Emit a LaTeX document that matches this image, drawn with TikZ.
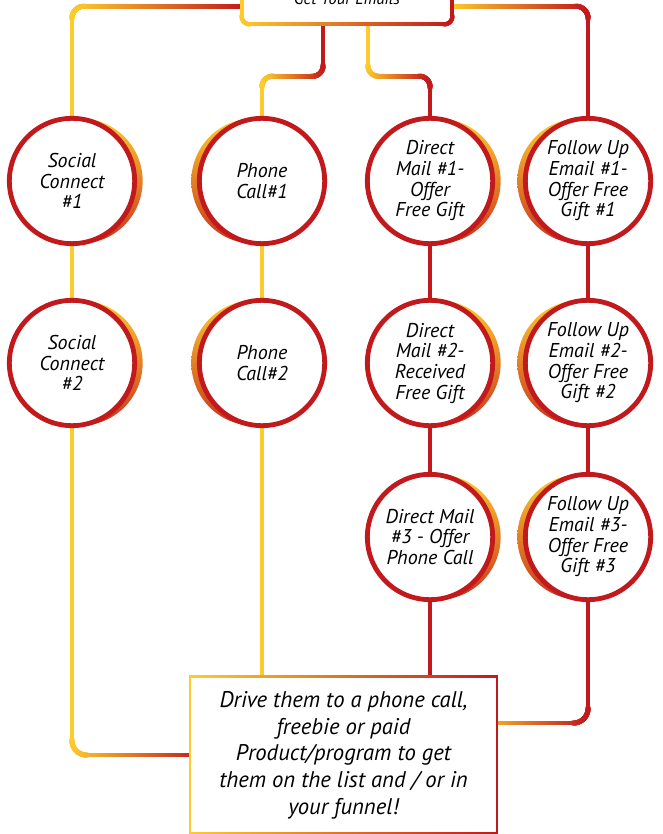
\documentclass[tikz,border=0pt]{standalone}
\usepackage{fontspec}
\setmainfont{PT Sans}
\usepackage{xcolor}
\usetikzlibrary{positioning, backgrounds, decorations.markings}
\definecolor{fyellow}{HTML}{FCCB2C}
\definecolor{fred}{HTML}{C1191C}
\tikzset{
  stage/.style={circle, draw=fred, line width=3.6pt, fill=white,
    minimum size=94pt, inner sep=0pt, align=center,
    font=\fontsize{15}{15.5}\selectfont\itshape,
    preaction={transform canvas={xshift=#1}, top color=fyellow,
      bottom color=fred!85!fyellow}},
  stage/.default=6pt,
  goalbox/.style={rectangle, fill=white, minimum width=230pt,
    minimum height=117pt, align=center,
    font=\fontsize{17}{20}\selectfont\itshape},
  emailbox/.style={rectangle, rounded corners=6pt, fill=white,
    minimum width=157.5pt, minimum height=37.5pt,
    font=\fontsize{12.5}{14}\selectfont\itshape},
  link/.style={line width=3.6pt, draw=#1},
  xfade/.style n args={3}{decoration={markings,
    mark=between positions 0 and 1 step 0.5pt with {%
      \pgfgettransformentries{\fa}{\fb}{\fc}{\fd}{\fx}{\fy}%
      \pgfmathsetmacro\fmix{100*min(1,max(0,(\fx/0.75-#1)/(#2-#1)))}%
      \fill[fred!\fmix!fyellow, sharp corners] (-#3/2,-#3/2) rectangle (#3/2,#3/2);}},
    postaction={decorate}},
}

\begin{document}
\begin{tikzpicture}[x=0.75pt, y=-0.75pt]
\useasboundingbox (0,0) rectangle (662,834);
\clip (0,0) rectangle (662,834);

% ---- Top box ----
\node[emailbox] (emails) at (347,-1) {Get Your Emails};
\path[xfade={242}{452}{3pt}, rounded corners=6pt]
  (emails.north west) rectangle (emails.south east);

% ---- Social ----
\node[stage] (sc1) at (72,181) {Social\\Connect\\\#1};
\node[stage] (sc2) at (72,363) {Social\\Connect\\\#2};

% ---- Phone ----
\node[stage=-6pt] (pc1) at (262,181) {Phone\\Call\#1};
\node[stage=-6pt] (pc2) at (262,363) {Phone\\Call\#2};

% ---- Direct mail ----
\node[stage] (dm1) at (430,181) {Direct\\Mail \#1-\\Offer\\Free Gift};
\node[stage] (dm2) at (430,363) {Direct\\Mail \#2-\\Received\\Free Gift};
\node[stage] (dm3) at (430,537) {Direct Mail\\\#3 - Offer\\Phone Call};

% ---- Follow up ----
\node[stage=-6pt] (fu1) at (588,181) {Follow Up\\Email \#1-\\Offer Free\\Gift \#1};
\node[stage=-6pt] (fu2) at (588,363) {Follow Up\\Email \#2-\\Offer Free\\Gift \#2};
\node[stage=-6pt] (fu3) at (588,537) {Follow Up\\Email \#3-\\Offer Free\\Gift \#3};

% ---- Goal ----
\node[goalbox] (goal) at (343.5,755) {Drive them to a phone call,\\freebie or paid\\Product/program to get\\them on the list and / or in\\your funnel!};
\path[xfade={192}{497}{2pt}] (goal.north west) rectangle (goal.south east);

% ---- Connectors ----
\begin{scope}[on background layer]
\path[xfade={72}{242}{3.6pt}, rounded corners=9pt] ([yshift=-5.5pt]emails.west) -| (sc1.north);
\path[xfade={452}{588}{3.6pt}, rounded corners=9pt] ([yshift=-5.5pt]emails.east) -| (fu1.north);
\path[xfade={262}{323}{3.6pt}, rounded corners=8pt] ([xshift=-18pt]emails.south) -- ++(0,52) -| (pc1.north);
\path[xfade={368}{430}{3.6pt}, rounded corners=8pt] ([xshift=15.75pt]emails.south) -- ++(0,52) -| (dm1.north);
\draw[link=fyellow] (sc1) -- (sc2);
\draw[link=fyellow] (pc1) -- (pc2);
\draw[link=fred] (dm1) -- (dm2);
\draw[link=fred] (dm2) -- (dm3);
\draw[link=fred] (fu1) -- (fu2);
\draw[link=fred] (fu2) -- (fu3);
\path[xfade={72}{205}{3.6pt}, rounded corners=11pt] (sc2.south) |- (goal.west);
\draw[link=fyellow] (pc2) -- (pc2 |- goal.north);
\draw[link=fred] (dm3) -- (dm3 |- goal.north);
\path[xfade={470}{585}{3.6pt}, rounded corners=11pt] (fu3.south) |- ([yshift=24pt]goal.east);
\end{scope}

\end{tikzpicture}
\end{document}
